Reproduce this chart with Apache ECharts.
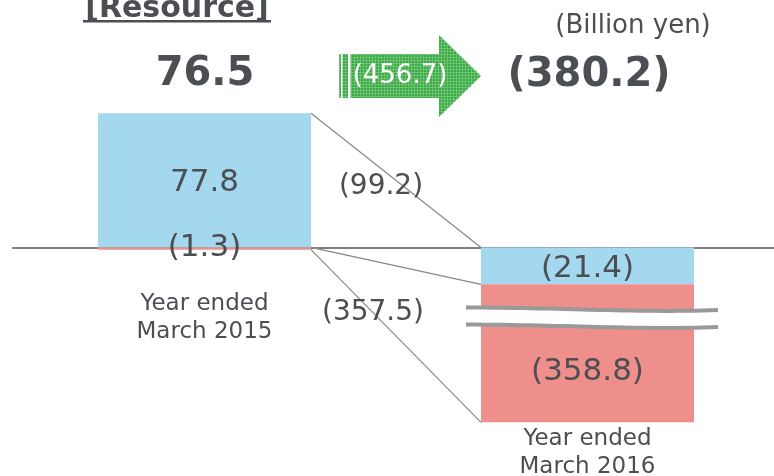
<!DOCTYPE html>
<html>
<head>
<meta charset="utf-8">
<script src="https://cdn.jsdelivr.net/npm/echarts@6.0.0/dist/echarts.min.js"></script>
<style>
  html, body { margin: 0; padding: 0; background: #fff; }
  #chart { width: 774px; height: 476px; }
</style>
</head>
<body>
<div id="chart"></div>
<script>
// data
const categories = ['Year ended\nMarch 2015', 'Year ended\nMarch 2016'];
const blueValues = [77.8, -21.4];
const redValues = [-1.3, -358.8];
const changeValues = [-99.2, -357.5];
const titleText = '[Resource]';
const unitText = '(Billion yen)';

// value range cut out of the 2016 bar
const breakFrom = -324.4;
const breakTo = -35.7;

const BLUE = '#a3d8ef';
const RED = '#ef8f8b';
const TEXT = '#4b4e52';
const FONT = 'DejaVu Sans';
const BAR_W = 213;
const BAND = 383;

function fmt(v) {
  return v < 0 ? '(' + Math.abs(v).toFixed(1) + ')' : v.toFixed(1);
}

const totals = blueValues.map((v, i) => +(v + redValues[i]).toFixed(1));
const diff = +(totals[1] - totals[0]).toFixed(1);
// lowest point of each stack (negative parts stack downward from zero)
const bottoms = blueValues.map((v, i) => +(Math.min(v, 0) + Math.min(redValues[i], 0)).toFixed(1));

// edges of the bars on the hidden value x axis (category i spans [i, i+1])
const edgeL = 0.5 + BAR_W / BAND / 2;
const edgeR = 1.5 - BAR_W / BAND / 2;

function linkLine(y0, y1, labelText, offset) {
  const first = { value: [edgeL, y0] };
  if (labelText) {
    first.label = {
      show: true, position: 'inside', offset: offset, formatter: labelText,
      fontSize: 28, color: TEXT, fontFamily: FONT
    };
  }
  return {
    type: 'line', xAxisIndex: 1, yAxisIndex: 0,
    data: [first, { value: [edgeR, y1], label: { show: false } }],
    symbolSize: 0, showSymbol: true, silent: true, z: 3,
    lineStyle: { color: '#888', width: 1.2 },
    label: { show: false }
  };
}

// light texture for the arrow
const pat = document.createElement('canvas');
pat.width = 3; pat.height = 3;
(function () {
  const c = pat.getContext('2d');
  c.fillStyle = '#3aa845';
  c.fillRect(0, 0, 3, 3);
  c.fillStyle = '#6cc472';
  c.fillRect(0, 0, 3, 1);
  c.fillRect(0, 0, 1, 3);
})();

const chart = echarts.init(document.getElementById('chart'));

const option = {
  animation: false,
  grid: { left: 13, width: 766, top: 113.3, bottom: 53.7, outerBoundsMode: 'none' },
  xAxis: [
    {
      type: 'category', data: categories,
      axisLine: { onZero: true, lineStyle: { color: '#808080', width: 2 } },
      axisTick: { show: false }, axisLabel: { show: false }, splitLine: { show: false }
    },
    { type: 'value', min: 0, max: 2, show: false }
  ],
  yAxis: {
    type: 'value', min: -380.2, max: 77.8,
    breaks: [{ start: breakFrom, end: breakTo, gap: 9.9 }],
    breakArea: { show: false },
    axisLine: { show: false }, axisTick: { show: false },
    axisLabel: { show: false }, splitLine: { show: false }
  },
  series: [
    {
      type: 'bar', stack: 'total', data: blueValues, barWidth: BAR_W, z: 2,
      itemStyle: { color: BLUE },
      label: {
        show: true, position: 'inside', formatter: p => fmt(p.value),
        fontSize: 31, color: TEXT, fontFamily: FONT, offset: [0, 3]
      }
    },
    {
      type: 'bar', stack: 'total', barWidth: BAR_W, z: 2,
      data: redValues.map((v, i) => ({
        value: v,
        label: { offset: i === 1 ? [0, 19] : [0, -1] }
      })),
      itemStyle: { color: RED },
      label: {
        show: true, position: 'inside', formatter: p => fmt(p.value),
        fontSize: 31, color: TEXT, fontFamily: FONT
      }
    },
    {
      // category names, hung under the bottom of each stack
      type: 'custom', silent: true, z: 5,
      data: bottoms.map((b, i) => [i, b]),
      renderItem: (params, api) => {
        const pt = api.coord([api.value(0), api.value(1)]);
        const dy = params.dataIndex === 0 ? 40 : 3;
        return {
          type: 'text', x: pt[0], y: pt[1] + dy,
          style: {
            text: categories[params.dataIndex], textAlign: 'center', textVerticalAlign: 'top',
            font: '23px "DejaVu Sans"', lineHeight: 28, fill: TEXT
          }
        };
      }
    },
    linkLine(blueValues[0], 0, fmt(changeValues[0]), [70, 73]),
    linkLine(0, blueValues[1], null),
    linkLine(redValues[0], bottoms[1], fmt(changeValues[1]), [62, 63])
  ],
  graphic: [
    {
      type: 'text', z: 10,
      style: { x: 177, y: 9, text: titleText, textAlign: 'center', textVerticalAlign: 'middle',
        font: 'bold 30px "DejaVu Sans"', fill: TEXT }
    },
    { type: 'rect', z: 10, shape: { x: 83, y: 20, width: 188, height: 2.5 }, style: { fill: TEXT } },
    {
      type: 'text', z: 10,
      style: { x: 633, y: 26, text: unitText, textAlign: 'center', textVerticalAlign: 'middle',
        font: '26px "DejaVu Sans"', fill: TEXT }
    },
    {
      type: 'text', z: 10,
      style: { x: 205, y: 75, text: fmt(totals[0]), textAlign: 'center', textVerticalAlign: 'middle',
        font: 'bold 40px "DejaVu Sans"', fill: TEXT }
    },
    {
      type: 'text', z: 10,
      style: { x: 589, y: 76, text: fmt(totals[1]), textAlign: 'center', textVerticalAlign: 'middle',
        font: 'bold 40px "DejaVu Sans"', fill: TEXT }
    },
    {
      type: 'polygon', z: 10,
      shape: { points: [[339, 54], [439, 54], [439, 35], [481, 76], [439, 117], [439, 98], [339, 98]] },
      style: { fill: { image: pat, repeat: 'repeat' } }
    },
    { type: 'rect', z: 11, shape: { x: 341, y: 54, width: 1.5, height: 44 }, style: { fill: '#fff' } },
    { type: 'rect', z: 11, shape: { x: 348, y: 54, width: 2.5, height: 44 }, style: { fill: '#fff' } },
    {
      type: 'text', z: 12,
      style: { x: 400, y: 76, text: fmt(diff), textAlign: 'center', textVerticalAlign: 'middle',
        font: '26px "DejaVu Sans"', fill: '#fff' }
    }
  ]
};

chart.setOption(option);

// wavy break marks drawn where the axis break lands
function bez(p0, p1, p2, p3, t) {
  const u = 1 - t;
  return u * u * u * p0 + 3 * u * u * t * p1 + 3 * u * t * t * p2 + t * t * t * p3;
}
function wave(y) {
  const xs = [466, 560, 640, 718];
  const ys = [y - 1.5, y - 1.5, y + 4, y + 1];
  const pts = [];
  for (let i = 0; i <= 30; i++) {
    const t = i / 30;
    pts.push([bez(xs[0], xs[1], xs[2], xs[3], t), bez(ys[0], ys[1], ys[2], ys[3], t)]);
  }
  return pts;
}
const yTop = chart.convertToPixel({ yAxisIndex: 0 }, breakTo);
const yBot = chart.convertToPixel({ yAxisIndex: 0 }, breakFrom);
const upper = wave(yTop);
const lower = wave(yBot);
chart.setOption({
  graphic: option.graphic.concat([
    { type: 'polygon', z: 20, shape: { points: upper.concat(lower.slice().reverse()) }, style: { fill: '#fff' } },
    { type: 'polyline', z: 21, shape: { points: upper }, style: { stroke: '#999', lineWidth: 4, fill: null } },
    { type: 'polyline', z: 21, shape: { points: lower }, style: { stroke: '#999', lineWidth: 4, fill: null } }
  ])
});
</script>
</body>
</html>
